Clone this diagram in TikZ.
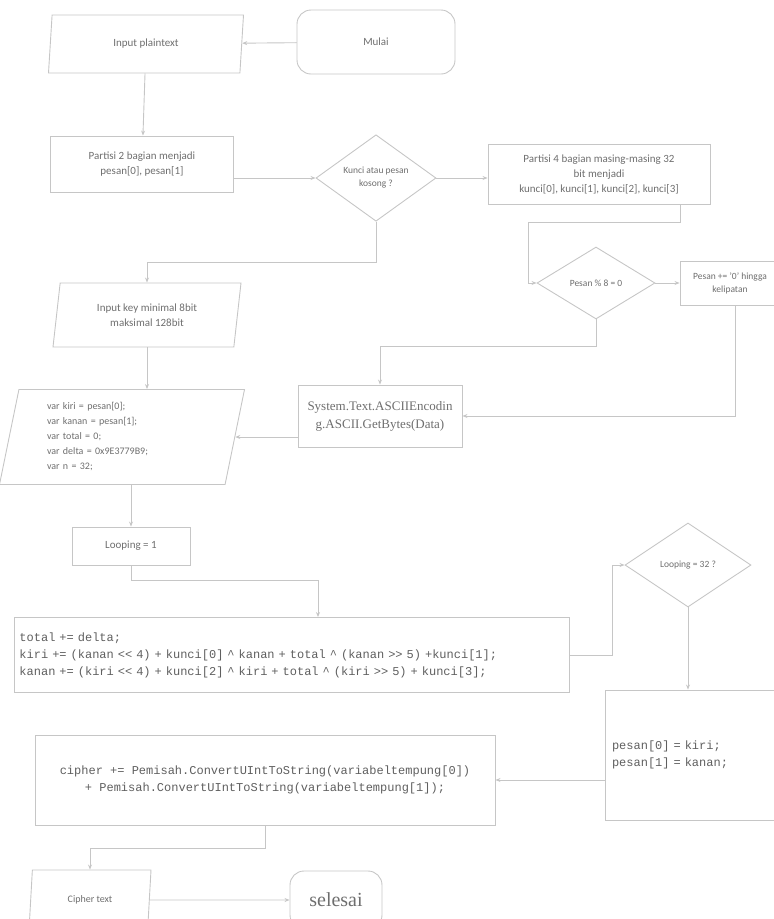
\documentclass[tikz,border=0pt]{standalone}
\usepackage{fontspec}
\setmainfont{Carlito}
\newfontfamily\codefont{Liberation Mono}
\newfontfamily\timesfont{Liberation Serif}
\usepackage{tikz}
\usetikzlibrary{shapes.geometric, arrows.meta, positioning, calc}
\definecolor{flowline}{RGB}{198,198,198}
\definecolor{flowtext}{RGB}{110,110,110}
\definecolor{codetext}{RGB}{95,95,95}
\tikzset{
  base/.style={draw=flowline, line width=0.9pt, text=flowtext,
    font=\fontsize{11}{15}\selectfont, align=center, inner sep=2pt},
  terminal/.style={base, rectangle, rounded corners=14pt},
  process/.style={base, rectangle},
  io/.style={base, trapezium, trapezium left angle=75,
    trapezium right angle=105, trapezium stretches body},
  decision/.style={base, diamond, inner sep=0pt,
    font=\fontsize{9.5}{13}\selectfont},
  code/.style={text=codetext, font=\codefont\fontsize{12}{17}\selectfont},
  arrow/.style={-{Stealth[length=5pt,width=4pt]}, draw=flowline, line width=0.9pt}
}

\begin{document}
\begin{tikzpicture}[x=1pt, y=-1pt]
  \useasboundingbox (0,0) rectangle (774,919);

  % ── Start and input ───────────────────────────────────────────────────────
  \node[terminal, minimum width=158pt, minimum height=64pt] (mulai) at (376,42) {Mulai};
  \node[io, minimum width=195pt, minimum height=58pt] (inplain) at (146,44) {Input plaintext};
  \node[process, minimum width=183pt, minimum height=56pt] (partdua) at (142,164)
    {Partisi 2 bagian menjadi\\pesan[0], pesan[1]};

  % ── Key check and partition ───────────────────────────────────────────────
  \node[decision, minimum width=120pt, minimum height=86pt] (kosong) at (376,178)
    {Kunci atau pesan\\kosong ?};
  \node[process, minimum width=222pt, minimum height=60pt] (partempat) at (599,174)
    {Partisi 4 bagian masing-masing 32\\bit menjadi\\kunci[0], kunci[1], kunci[2], kunci[3]};
  \node[decision, minimum width=118pt, minimum height=72pt] (modlapan) at (596,283)
    {Pesan \% 8 = 0};
  \node[process, minimum width=100pt, minimum height=44pt,
    font=\fontsize{9.5}{13}\selectfont] (tambah) at (730,283)
    {Pesan += '0' hingga\\kelipatan};
  \coordinate (belok) at (528,222);

  % ── Key input and variables ───────────────────────────────────────────────
  \node[io, minimum width=188pt, minimum height=64pt] (inkey) at (147,315)
    {Input key minimal 8bit\\maksimal 128bit};
  \node[io, minimum width=245pt, minimum height=95pt, text width=150pt, align=left,
    font=\fontsize{10}{15}\selectfont] (varbox) at (122,437)
    {var kiri = pesan[0];\\var kanan = pesan[1];\\var total = 0;\\var delta = 0x9E3779B9;\\var n = 32;};
  \node[process, minimum width=164pt, minimum height=62pt,
    font=\timesfont\fontsize{13}{18}\selectfont] (sistem) at (380,416)
    {System.Text.ASCIIEncodin\\g.ASCII.GetBytes(Data)};

  % ── Rounds ────────────────────────────────────────────────────────────────
  \node[process, minimum width=118pt, minimum height=38pt] (loopsatu) at (131,546) {Looping = 1};
  \node[decision, minimum width=126pt, minimum height=84pt] (loopdua) at (688,565)
    {Looping = 32 ?};
  \node[process, code, minimum width=555pt, minimum height=75pt, text width=545pt,
    align=left] (total) at (292,655)
    {total += delta;\\
     kiri += (kanan << 4) + kunci[0] \^{} kanan + total \^{} (kanan >> 5) +kunci[1];\\
     kanan += (kiri << 4) + kunci[2] \^{} kiri + total \^{} (kiri >> 5) + kunci[3];};
  \node[process, code, minimum width=170pt, minimum height=130pt, text width=156pt,
    align=left] (pesanbox) at (690,755)
    {pesan[0] = kiri;\\pesan[1] = kanan;};

  % ── Output ────────────────────────────────────────────────────────────────
  \node[process, code, minimum width=460pt, minimum height=90pt] (cipherbox) at (265,780)
    {cipher += Pemisah.ConvertUIntToString(variabeltempung[0])\\
     + Pemisah.ConvertUIntToString(variabeltempung[1]);};
  \node[io, minimum width=122pt, minimum height=60pt,
    font=\fontsize{10}{12}\selectfont] (ciphertext) at (90,900) {Cipher text};
  \node[terminal, minimum width=92pt, minimum height=58pt,
    font=\timesfont\fontsize{20}{22}\selectfont] (selesai) at (336,900) {selesai};

  % ── Connectors ────────────────────────────────────────────────────────────
  \draw[arrow] (mulai) -- (inplain);
  \draw[arrow] (inplain) -- (partdua);
  \draw[arrow] (kosong.west -| partdua.east) -- (kosong.west);
  \draw[arrow] (kosong.east) -- (kosong.east -| partempat.west);
  \draw[arrow] (kosong.south) -- ++(0,41) -| (inkey.north);
  \draw[arrow] ([xshift=81pt]partempat.south) |- (belok) |- (modlapan.west);
  \draw[arrow] (modlapan) -- (tambah);
  \draw[arrow] (modlapan.south) -- ++(0,27) -| (sistem.north);
  \draw[arrow] ([xshift=5pt]tambah.south) |- (sistem.east);
  \draw[arrow] (inkey.south) -- (inkey.south |- varbox.north);
  \draw[arrow] (sistem.west |- varbox.east) -- (varbox.east);
  \draw[arrow] (varbox.south -| loopsatu.north) -- (loopsatu.north);
  \draw[arrow] (loopsatu.south) -- ++(0,15) -| ([xshift=26pt]total.north);
  \draw[arrow] (total.east) -- ++(42,0) |- (loopdua.west);
  \draw[arrow] (loopdua.south) -- (loopdua.south |- pesanbox.north);
  \draw[arrow] (cipherbox.east -| pesanbox.west) -- (cipherbox.east);
  \draw[arrow] (cipherbox.south) -- ++(0,23) -| (ciphertext.north);
  \draw[arrow] (ciphertext) -- (selesai);
\end{tikzpicture}
\end{document}
